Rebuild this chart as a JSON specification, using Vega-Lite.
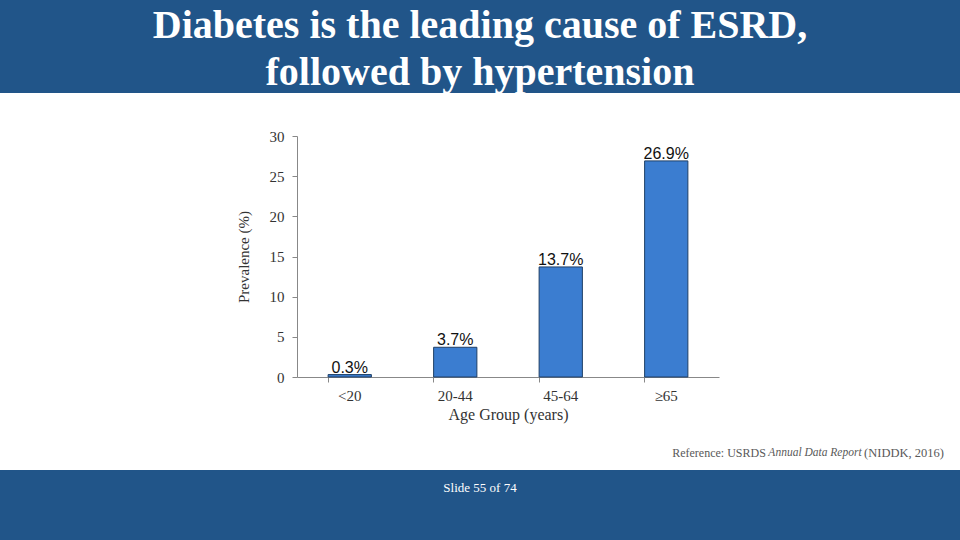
{
  "$schema": "https://vega.github.io/schema/vega-lite/v6.json",
  "background": "white",
  "padding": 0,
  "autosize": {"type": "pad"},
  "spacing": 0,
  "config": {"view": {"stroke": null}, "concat": {"spacing": 0}},
  "vconcat": [
    {
      "width": 960,
      "height": 93,
      "view": {"fill": "#215589"},
      "data": {"values": [
        {"line": 1, "t": "Diabetes is the leading cause of ESRD,"},
        {"line": 2, "t": "followed by hypertension"}
      ]},
      "mark": {"type": "text", "font": "Liberation Serif", "fontWeight": "bold", "fontSize": 40, "color": "white", "baseline": "middle", "align": "center"},
      "encoding": {
        "y": {"field": "line", "type": "ordinal", "axis": null, "scale": {"type": "point", "padding": 0.483, "align": 0.56}},
        "text": {"field": "t"}
      }
    },
    {
      "vconcat": [
        {
          "hconcat": [
            {"width": 236, "height": 343, "data": {"values": []}, "mark": "point", "encoding": {}},
            {
              "vconcat": [
                {"width": 422, "height": 43, "data": {"values": []}, "mark": "point", "encoding": {}},
                {
                  "width": 422,
                  "height": 241,
                  "data": {"values": [
                    {"age": "<20", "prevalence": 0.3, "label": "0.3%"},
                    {"age": "20-44", "prevalence": 3.7, "label": "3.7%"},
                    {"age": "45-64", "prevalence": 13.7, "label": "13.7%"},
                    {"age": "≥65", "prevalence": 26.9, "label": "26.9%"}
                  ]},
                  "encoding": {
                    "x": {"field": "age", "type": "nominal", "sort": null, "scale": {"paddingInner": 0.59, "paddingOuter": 0.295}, "axis": null},
                    "y": {"field": "prevalence", "type": "quantitative", "scale": {"domain": [0, 30]},
                      "axis": {"title": "Prevalence (%)", "values": [0, 5, 10, 15, 20, 25, 30], "grid": false, "tickSize": 5, "labelPadding": 8,
                        "labelFont": "Liberation Serif", "labelFontSize": 15, "labelColor": "#333333", "domainColor": "#888888", "tickColor": "#888888",
                        "titleFont": "Liberation Serif", "titleFontSize": 15, "titleFontWeight": "normal", "titleColor": "#333333", "titlePadding": 18}}
                  },
                  "layer": [
                    {
                      "mark": {"type": "bar", "fill": "#3b7dd0", "stroke": "#1e3f66", "strokeWidth": 1},
                      "encoding": {
                        "x": {"field": "age", "type": "nominal", "sort": null, "scale": {"paddingInner": 0.59, "paddingOuter": 0.295},
                          "axis": {"title": "Age Group (years)", "orient": "bottom", "ticks": false, "labelPadding": 11, "labelAngle": 0,
                            "labelFont": "Liberation Serif", "labelFontSize": 15, "labelColor": "#333333", "domainColor": "#888888",
                            "titleFont": "Liberation Serif", "titleFontSize": 16, "titleFontWeight": "normal", "titleColor": "#333333", "titlePadding": 3}}
                      }
                    },
                    {
                      "mark": {"type": "text", "font": "Liberation Sans", "fontSize": 16, "color": "#111111", "baseline": "alphabetic", "dy": -2},
                      "encoding": {"text": {"field": "label"}}
                    },
                    {
                      "mark": {"type": "bar", "opacity": 0},
                      "encoding": {
                        "x": {"field": "age", "type": "nominal", "sort": null, "scale": {"paddingInner": 0.59, "paddingOuter": 0.295},
                          "axis": {"orient": "bottom", "labels": false, "title": null, "ticks": true, "tickSize": 5, "bandPosition": 0, "domain": false, "tickColor": "#888888", "grid": false}}
                      }
                    }
                  ],
                  "resolve": {"axis": {"x": "independent"}}
                },
                {"width": 422, "height": 59, "data": {"values": []}, "mark": "point", "encoding": {}}
              ],
              "spacing": 0,
              "bounds": "flush"
            }
          ],
          "spacing": 0
        },
        {
          "hconcat": [
            {"width": 670, "height": 34, "data": {"values": []}, "mark": "point", "encoding": {}},
            {
              "width": 98, "height": 34,
              "data": {"values": [{"t": "Reference: USRDS"}]},
              "mark": {"type": "text", "font": "Liberation Serif", "fontSize": 12, "color": "#595959", "baseline": "middle", "align": "center"},
              "encoding": {"text": {"field": "t"}}
            },
            {
              "width": 94, "height": 34,
              "data": {"values": [{"t": "Annual Data Report"}]},
              "mark": {"type": "text", "font": "Liberation Serif", "fontStyle": "italic", "fontSize": 11.5, "color": "#595959", "baseline": "middle", "align": "center"},
              "encoding": {"text": {"field": "t"}}
            },
            {
              "width": 84, "height": 34,
              "data": {"values": [{"t": "(NIDDK, 2016)"}]},
              "mark": {"type": "text", "font": "Liberation Serif", "fontSize": 12.5, "color": "#595959", "baseline": "middle", "align": "center"},
              "encoding": {"text": {"field": "t"}}
            }
          ],
          "spacing": 0,
          "bounds": "flush"
        }
      ],
      "spacing": 0
    },
    {
      "vconcat": [
        {
          "width": 960, "height": 35,
          "view": {"fill": "#215589"},
          "data": {"values": [{"t": "Slide 55 of 74"}]},
          "mark": {"type": "text", "font": "Liberation Serif", "fontSize": 13, "color": "white", "baseline": "middle", "align": "center"},
          "encoding": {"text": {"field": "t"}}
        },
        {
          "width": 960, "height": 35,
          "view": {"fill": "#215589"},
          "data": {"values": []},
          "mark": "point",
          "encoding": {}
        }
      ],
      "spacing": 0,
      "bounds": "flush"
    }
  ]
}
